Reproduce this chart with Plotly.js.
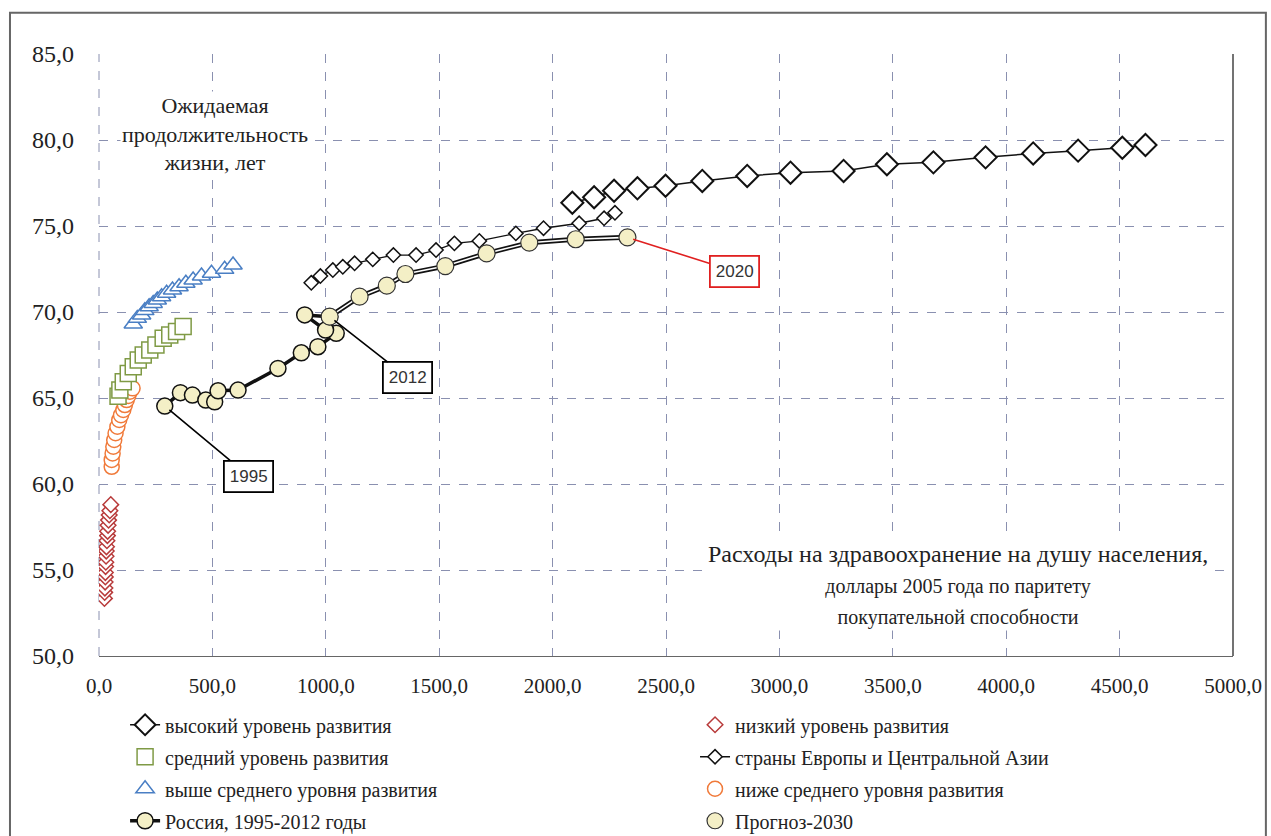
<!DOCTYPE html>
<html>
<head>
<meta charset="utf-8">
<script src="https://cdn.plot.ly/plotly-3.0.1.min.js"></script>
<style>html,body{margin:0;padding:0;background:#fff;}#chart{width:1271px;height:836px;}</style>
</head>
<body>
<div id="chart"></div>
<script>
// ---- data ----
const highX = [2087,2183,2271,2374,2498,2660,2858,3049,3283,3474,3679,3909,4119,4317,4512,4614];
const highY = [76.35,76.67,77.05,77.19,77.34,77.62,77.91,78.10,78.20,78.59,78.70,78.99,79.22,79.38,79.55,79.71];

const europeX = [936,976,1031,1075,1127,1207,1298,1398,1486,1567,1677,1838,1960,2117,2227,2275];
const europeY = [71.70,72.09,72.44,72.63,72.83,73.06,73.31,73.31,73.60,73.99,74.13,74.57,74.87,75.16,75.45,75.77];

const lowX = [24,25,26,27,28,28,29,30,31,32,33,35,37,38,40,42,45,48,52];
const lowY = [53.35,53.7,53.95,54.3,54.6,54.85,55.2,55.45,55.8,56.1,56.35,56.7,57.0,57.25,57.6,57.9,58.2,58.45,58.8];

const lowerMidX = [56,56,60,63,67,73,81,89,97,107,114,122,129,136,148];
const lowerMidY = [61.0,61.4,61.78,62.17,62.56,62.95,63.33,63.72,64.0,64.3,64.59,64.88,65.12,65.37,65.56];

const midX = [84,92,107,129,151,173,195,224,251,283,312,342,371];
const midY = [65.1,65.47,65.95,66.43,66.82,67.21,67.5,67.79,68.08,68.47,68.66,68.86,69.15];

const upperMidX = [151,169,188,202,221,239,257,276,298,324,353,383,415,452,496,554,591];
const upperMidY = [69.30,69.63,69.83,70.08,70.31,70.50,70.70,70.89,71.09,71.28,71.47,71.67,71.86,72.09,72.25,72.48,72.73];

const russiaX = [290,359,412,471,510,525,613,789,892,965,1046,999,907,1017];
const russiaY = [64.53,65.31,65.17,64.88,64.78,65.42,65.46,66.72,67.63,67.98,68.76,68.95,69.83,69.73];

const forecastX = [1017,1149,1269,1351,1527,1709,1897,2102,2330];
const forecastY = [69.73,70.89,71.53,72.21,72.67,73.41,74.03,74.23,74.34];

const names = {
  high: 'высокий уровень развития',
  low: 'низкий уровень развития',
  mid: 'средний уровень развития',
  europe: 'страны Европы и Центральной Азии',
  upperMid: 'выше среднего уровня развития',
  lowerMid: 'ниже среднего уровня развития',
  russia: 'Россия, 1995-2012 годы',
  forecast: 'Прогноз-2030'
};
const yTitle = 'Ожидаемая<br>продолжительность<br>жизни, лет';
const xTitle1 = 'Расходы на здравоохранение на душу населения,';
const xTitle2 = 'доллары 2005 года по паритету';
const xTitle3 = 'покупательной способности';
const callouts = [
  {text:'1995', x:290, y:64.53, ax:84, ay:70, color:'#000'},
  {text:'2012', x:1017, y:69.73, ax:78, ay:61, color:'#000'},
  {text:'2020', x:2330, y:74.34, ax:107, ay:34, color:'#e02020'}
];

const serif = 'Liberation Serif, Times New Roman, serif';
const cream = '#f4efc6';

const traces = [
  {x:lowX, y:lowY, name:names.low, mode:'markers', type:'scatter',
   marker:{symbol:'diamond', size:12, color:'white', line:{color:'#b83a3a', width:1.5}},
   legend:'legend2', legendgroup:'g5', legendrank:1},
  {x:lowerMidX, y:lowerMidY, name:names.lowerMid, mode:'markers', type:'scatter',
   marker:{symbol:'circle', size:15, color:'white', line:{color:'#f07a3a', width:1.5}},
   legend:'legend2', legendgroup:'g7', legendrank:3},
  {x:midX, y:midY, name:names.mid, mode:'markers', type:'scatter',
   marker:{symbol:'square', size:16, color:'white', line:{color:'#7f9a45', width:1.5}},
   legend:'legend', legendgroup:'g2', legendrank:2},
  {x:upperMidX, y:upperMidY, name:names.upperMid, mode:'markers', type:'scatter',
   marker:{symbol:'triangle-up', size:16, color:'white', line:{color:'#4a7fc4', width:1.5}},
   legend:'legend', legendgroup:'g3', legendrank:3},
  {x:europeX, y:europeY, name:names.europe, mode:'lines+markers', type:'scatter',
   line:{color:'#111', width:1.3},
   marker:{symbol:'diamond', size:11, color:'white', line:{color:'#111', width:1.5}},
   legend:'legend2', legendgroup:'g6', legendrank:2},
  {x:highX, y:highY, name:names.high, mode:'lines+markers', type:'scatter',
   line:{color:'#111', width:1.5},
   marker:{symbol:'diamond', size:17, color:'white', line:{color:'#111', width:2}},
   legend:'legend', legendgroup:'g1', legendrank:1},
  {x:forecastX, y:forecastY, name:names.forecast, mode:'lines', type:'scatter',
   line:{color:'#111', width:5}, showlegend:false, hoverinfo:'skip',
   legend:'legend2', legendgroup:'g8'},
  {x:russiaX, y:russiaY, name:names.russia, mode:'lines+markers', type:'scatter',
   line:{color:'#111', width:3.5},
   marker:{symbol:'circle', size:16, color:cream, line:{color:'#111', width:1.5}},
   legend:'legend', legendgroup:'g4', legendrank:4},
  {x:forecastX, y:forecastY, name:names.forecast, mode:'lines+markers', type:'scatter',
   line:{color:'#ffffff', width:1.6},
   marker:{symbol:'circle', size:17, color:cream, line:{color:'#333', width:1.2}},
   legend:'legend2', legendgroup:'g8', legendrank:4}
];

const annotations = [
  {x:510, y:80.35, xref:'x', yref:'y', text:yTitle, showarrow:false,
   font:{family:serif, size:22, color:'#222'}, bgcolor:'white', align:'center'},
  {x:3789, y:54.1, xref:'x', yref:'y', yanchor:'middle',
   text: xTitle1 + '<br><span style="font-size:20px">' + xTitle2 + '</span><br><span style="font-size:20px">' + xTitle3 + '</span>',
   showarrow:false, font:{family:serif, size:24, color:'#222'}, bgcolor:'white', align:'center'}
];
callouts.forEach(c => annotations.push({
  x:c.x, y:c.y, xref:'x', yref:'y', text:c.text, showarrow:true, arrowhead:0,
  arrowwidth:1.6, arrowcolor:c.color, ax:c.ax, ay:c.ay, standoff:6,
  bordercolor:c.color, borderwidth:1.8, borderpad:5, bgcolor:'white',
  font:{family:'Liberation Sans, Arial, sans-serif', size:17, color:'#333'}
}));

const layout = {
  width:1271, height:836,
  margin:{l:99, r:38, t:54, b:180, autoexpand:false},
  paper_bgcolor:'white', plot_bgcolor:'white',
  separators:', ',
  showlegend:true,
  xaxis:{range:[0,5000], dtick:500, tick0:0, tickformat:'.1f', automargin:false,
    showgrid:true, gridcolor:'#8a90b0', griddash:'dash', gridwidth:1,
    zeroline:false, showline:true, linecolor:'#666', linewidth:1,
    ticks:'', ticklabelstandoff:11,
    tickfont:{family:serif, size:21, color:'#222'}},
  yaxis:{range:[50,85], dtick:5, tick0:50, tickformat:'.1f', automargin:false,
    showgrid:true, gridcolor:'#8a90b0', griddash:'dash', gridwidth:1,
    zeroline:false, showline:false, ticks:'', ticklabelstandoff:24,
    tickfont:{family:serif, size:24, color:'#222'}},
  legend:{x:0.023, xref:'paper', y:0.1564, yref:'container', xanchor:'left', yanchor:'top', orientation:'v',
    font:{family:serif, size:20, color:'#222'}, tracegroupgap:3, itemwidth:30,
    bgcolor:'rgba(0,0,0,0)'},
  legend2:{x:0.5256, xref:'paper', y:0.1564, yref:'container', xanchor:'left', yanchor:'top', orientation:'v',
    font:{family:serif, size:20, color:'#222'}, tracegroupgap:3, itemwidth:30,
    bgcolor:'rgba(0,0,0,0)'},
  annotations:annotations,
  shapes:[
    {type:'rect', xref:'paper', yref:'paper', x0:-0.0785, x1:1.029, y0:-0.31, y1:1.0686,
     line:{color:'#666', width:2}, layer:'below'},
    {type:'line', xref:'paper', yref:'paper', x0:0, x1:0, y0:0, y1:1,
     line:{color:'#8a90b0', width:1, dash:'dash'}, layer:'below'},
    {type:'line', xref:'paper', yref:'paper', x0:1, x1:1, y0:0, y1:1,
     line:{color:'#444', width:1.5}}
  ]
};

Plotly.newPlot('chart', traces, layout, {displayModeBar:false, staticPlot:true});
</script>
</body>
</html>
